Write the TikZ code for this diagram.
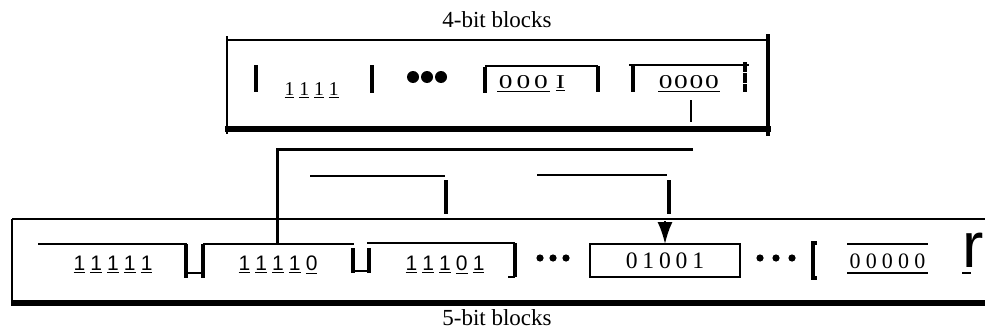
\documentclass[tikz,border=0pt]{standalone}
\usepackage{fontspec}
\setmainfont{Liberation Serif}
\newfontfamily\blocksans{Liberation Sans}
\newfontfamily\blockwide[FakeStretch=1.4]{Liberation Serif}
\usetikzlibrary{arrows.meta}
\newcommand{\bitcell}[2]{\makebox[#1]{#2}}
\newcommand{\bitdash}[2]{\makebox[#1]{\underline{#2}}}

\begin{document}
\begin{tikzpicture}[y=0.50pt,x=0.50pt,yscale=-1, inner sep=0pt, outer sep=0pt]
  \useasboundingbox (0,0) rectangle (985,332);
  \tikzset{
    thinrule/.style={draw=black,line join=miter,line cap=butt,line width=0.9pt},
    barrule/.style={draw=black,line join=miter,line cap=butt,line width=1.6pt},
    heavyrule/.style={draw=black,line join=miter,line cap=butt,line width=2.8pt},
    labeltext/.style={font=\fontsize{11.5}{13}\selectfont},
    topbits/.style={anchor=base west,font=\fontsize{9.8}{11}\selectfont},
    widebits/.style={anchor=base west,font=\blockwide\fontsize{9.8}{11}\selectfont},
    lowbits/.style={anchor=base west,font=\blocksans\fontsize{10.5}{12}\selectfont}
  }

  % 4-bit frame
  \path[fill=black] (497,20) node[labeltext] (text4bit) {4-bit blocks};
  \path[thinrule] (227,36) -- (227,134);
  \path[thinrule] (227,40) -- (768,40);
  \path[draw=black,line width=2.2pt] (768,34) -- (768,136);
  \path[heavyrule] (225,129) -- (771,129);

  \path[barrule] (256,65) -- (256,92);
  \path[fill=black] (282,95) node[topbits] (text1111)
    {\bitdash{7.4pt}{1}\bitdash{7.4pt}{1}\bitdash{7.4pt}{1}\bitdash{7.4pt}{1}};
  \path[barrule] (372,65) -- (372,93);
  \path[fill=black] (413,77) circle (3pt);
  \path[fill=black] (427,77) circle (3pt);
  \path[fill=black] (441,77) circle (3pt);

  \path[barrule] (485,67) -- (485,93);
  \path[thinrule] (485,66) -- (598,66);
  \path[barrule] (598,66) -- (598,92);
  \path[fill=black] (497,88) node[widebits] (text0001)
    {\underline{\bitcell{8.8pt}{0}\bitcell{8.8pt}{0}\bitcell{8.8pt}{0}}\hspace{3pt}\underline{I}};

  \path[thinrule] (629,65) -- (749,65);
  \path[barrule] (633,65) -- (633,92);
  \path[fill=black] (658,88) node[widebits] (text0000)
    {\underline{\bitcell{7.7pt}{0}\bitcell{7.7pt}{0}\bitcell{7.7pt}{0}\bitcell{7.7pt}{0}}};
  \path[barrule,dash pattern=on 5pt off 0.6pt] (745,62) -- (745,92);

  % connectors
  \coordinate (tap0000) at (691,100);
  \coordinate (tap0000end) at (691,122);
  \coordinate (longstart) at (693,149);
  \coordinate (longturn) at (277,149);
  \coordinate (top11110) at (277,244);
  \coordinate (midstart) at (310,176);
  \coordinate (midturn) at (445,176);
  \coordinate (middrop) at (446,180);
  \coordinate (middropend) at (446,214);
  \coordinate (rightstart) at (537,175);
  \coordinate (rightturn) at (667,175);
  \coordinate (rightdrop) at (669,180);
  \coordinate (rightdropend) at (669,214);
  \coordinate (arrowstart) at (665,221);
  \coordinate (top01001) at (665,244);

  \path[draw=black,line width=1.2pt] (tap0000) -- (tap0000end);
  \path[draw=black,line width=1.5pt] (longstart) -- (longturn) -- (top11110);
  \path[thinrule] (midstart) -- (midturn);
  \path[draw=black,line width=2.2pt] (middrop) -- (middropend);
  \path[thinrule] (rightstart) -- (rightturn);
  \path[draw=black,line width=2.2pt] (rightdrop) -- (rightdropend);
  \path[draw=black,line width=1pt,-{Latex[length=11pt,width=7.5pt]}] (arrowstart) -- (top01001);

  % 5-bit frame
  \path[thinrule] (12,219) -- (12,305);
  \path[thinrule] (12,219) -- (985,219);
  \path[draw=black,line width=3pt] (11,303) -- (985,303);
  \path[fill=black] (497,318) node[labeltext] (text5bit) {5-bit blocks};

  \path[thinrule] (38,244) -- (187,244);
  \path[fill=black] (71,270) node[lowbits] (text11111)
    {\bitdash{8.4pt}{1}\bitdash{8.4pt}{1}\bitdash{8.4pt}{1}\bitdash{8.4pt}{1}\bitdash{8.4pt}{1}};
  \path[barrule] (186,244) -- (186,278);
  \path[barrule] (203,244) -- (203,278);
  \path[thinrule] (186,273) -- (203,273);

  \path[thinrule] (203,244) -- (354,244);
  \path[fill=black] (236,270) node[lowbits] (text11110)
    {\bitdash{8.4pt}{1}\bitdash{8.4pt}{1}\bitdash{8.4pt}{1}\bitdash{8.4pt}{1}\bitdash{8.4pt}{0}};
  \path[barrule] (353,248) -- (353,273);
  \path[barrule] (369,248) -- (369,273);
  \path[thinrule] (353,271) -- (369,271);

  \path[thinrule] (367,243) -- (515,243);
  \path[fill=black] (403,270) node[lowbits] (text11101)
    {\bitdash{8.4pt}{1}\bitdash{8.4pt}{1}\bitdash{8.4pt}{1}\bitdash{8.4pt}{0}\bitdash{8.4pt}{1}};
  \path[barrule] (515,243) -- (515,277);
  \path[thinrule] (508,277) -- (515,277);

  \path[fill=black] (540,258) circle (1.8pt);
  \path[fill=black] (553,258) circle (1.8pt);
  \path[fill=black] (566,258) circle (1.8pt);

  \path[draw=black,line width=1.1pt] (590,244) rectangle (740,277);
  \path[fill=black] (665,268) node[anchor=base,font=\fontsize{11.8}{13}\selectfont] (text01001)
    {\bitcell{8.3pt}{0}\bitcell{8.3pt}{1}\bitcell{8.3pt}{0}\bitcell{8.3pt}{0}\bitcell{8.3pt}{1}};

  \path[fill=black] (760,258) circle (1.8pt);
  \path[fill=black] (776,258) circle (1.8pt);
  \path[fill=black] (792,258) circle (1.8pt);

  \path[barrule] (817,243) -- (813,243) -- (813,278) -- (817,278);
  \path[draw=black,line width=1.4pt] (847,244) -- (928,244);
  \path[fill=black] (847,268) node[anchor=base west,font=\fontsize{11}{13}\selectfont] (text00000)
    {\bitcell{8.1pt}{0}\bitcell{8.1pt}{0}\bitcell{8.1pt}{0}\bitcell{8.1pt}{0}\bitcell{8.1pt}{0}};
  \path[thinrule] (847,273) -- (928,273);
  \path[fill=black] (962,267) node[anchor=base west,font=\blocksans\fontsize{32}{34}\selectfont] (textr) {r};
  \path[thinrule] (962,273) -- (971,273);

\end{tikzpicture}
\end{document}
